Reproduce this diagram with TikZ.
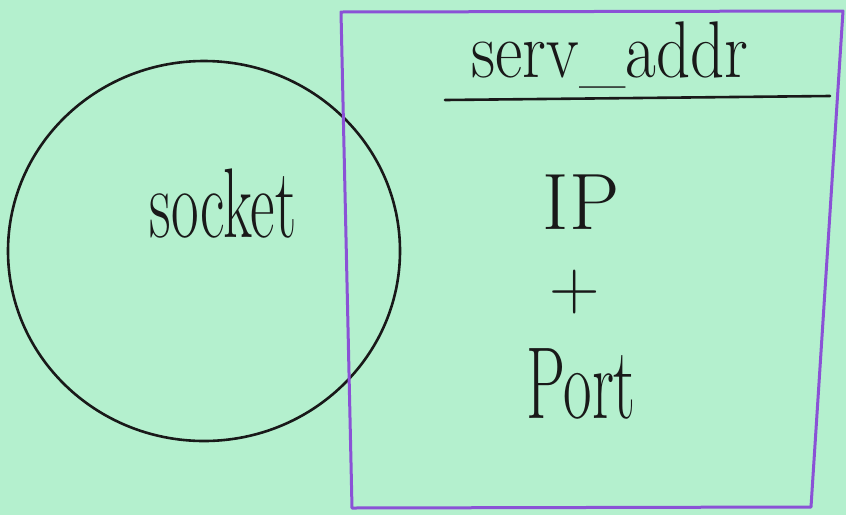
\documentclass[tikz,border=0pt]{standalone}
\usepackage{fontspec}
\definecolor{paper}{RGB}{180,240,206}
\definecolor{pen}{RGB}{138,82,214}
\definecolor{ink}{RGB}{25,25,25}
\tikzset{
  hand/.style={inner sep=0pt, outer sep=0pt, text=ink},
  inkline/.style={draw=ink, line width=2.6pt, line cap=round},
  penline/.style={draw=pen, line width=3pt, line join=round}
}
\begin{document}
\begin{tikzpicture}[x=1pt,y=-1pt]
\fill[paper] (0,0) rectangle (846,515);
\useasboundingbox (0,0) rectangle (846,515);
% socket circle
\coordinate (cc) at (204,251);
\draw[inkline] (cc) ellipse [x radius=196, y radius=190];
% serv_addr box
\draw[penline] (341,12) -- (843,11) -- (811,507) -- (352,508) -- cycle;
\coordinate (ulA) at (445,100);
\coordinate (ulB) at (830,96);
\draw[inkline] (ulA) -- (ulB);
\node[hand, anchor=base] (title) at (610,77) {\scalebox{1}[1.2]{\fontsize{67}{67}\selectfont serv\_addr}};
\node[hand, anchor=base] (sock) at (223,237) {\scalebox{1}[1.65]{\fontsize{60}{60}\selectfont socket}};
\node[hand, anchor=base] (ip) at (581,229) {\fontsize{80}{80}\selectfont IP};
\node[hand, anchor=base] (plus) at (575,309) {\fontsize{70}{70}\selectfont +};
\node[hand, anchor=base] (port) at (581,418) {\scalebox{1}[1.65]{\fontsize{62}{62}\selectfont Port}};
\end{tikzpicture}
\end{document}
